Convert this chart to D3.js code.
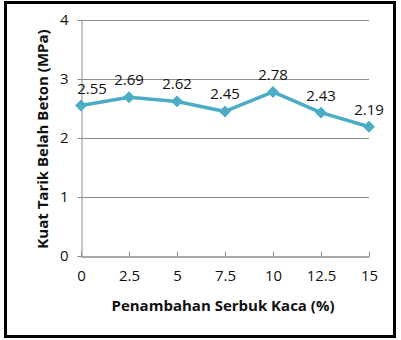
<!DOCTYPE html>
<meta charset="utf-8">
<script src="https://d3js.org/d3.v7.min.js"></script>
<style>
  body { margin: 0; background: #fff; }
  text { font-family: "Open Sans", "Noto Sans", sans-serif; }
</style>
<div id="my_dataviz"></div>
<script>

// data
var serbuk = [0, 2.5, 5, 7.5, 10, 12.5, 15]
var kuatTarik = [2.55, 2.69, 2.62, 2.45, 2.78, 2.43, 2.19]
var yTicks = [0, 1, 2, 3, 4]
var xTitle = "Penambahan Serbuk Kaca (%)"
var yTitle = "Kuat Tarik Belah Beton (MPa)"

var W = 401, H = 340
var margin = {top: 20, right: 32, bottom: 84, left: 81},
    width = 369 - margin.left,
    height = 256 - margin.top

var root = d3.select("#my_dataviz")
  .append("svg")
    .attr("width", W)
    .attr("height", H)

// outer frame
root.append("rect")
  .attr("x", 5.5).attr("y", 2.5)
  .attr("width", 389).attr("height", 334)
  .attr("fill", "#fff")
  .attr("stroke", "#000")
  .attr("stroke-width", 3)

var svg = root.append("g")
  .attr("transform", "translate(" + margin.left + "," + margin.top + ")")

var x = d3.scaleLinear().domain([0, 15]).range([0, width])
var y = d3.scaleLinear().domain([0, 4]).range([height, 0])

// gridlines
svg.append("g")
  .selectAll("line")
  .data(yTicks.filter(function(d) { return d > 0 }))
  .enter().append("line")
    .attr("x1", 0).attr("x2", width)
    .attr("y1", function(d) { return Math.round(y(d)) + 0.5 })
    .attr("y2", function(d) { return Math.round(y(d)) + 0.5 })
    .attr("stroke", "#8c8c8c")
    .attr("stroke-width", 1)

// Y axis
var yAxis = svg.append("g")
  .attr("transform", "translate(0.5,0)")
  .call(d3.axisLeft(y).tickValues(yTicks).tickSize(4).tickPadding(9).tickFormat(d3.format("d")))
yAxis.select(".domain").attr("stroke", "#8c8c8c")
yAxis.selectAll(".tick line").attr("stroke", "#8c8c8c")
yAxis.selectAll("text").attr("font-size", 15).attr("fill", "#111")
  .attr("font-family", "Open Sans")

// X axis
var xAxis = svg.append("g")
  .attr("transform", "translate(0," + (height + 0.5) + ")")
  .call(d3.axisBottom(x).tickValues(serbuk).tickSize(-5).tickPadding(14).tickSizeOuter(0)
    .tickFormat(function(d) { return String(d) }))
xAxis.select(".domain").attr("stroke", "#8c8c8c").attr("stroke-width", 1.5)
xAxis.selectAll(".tick line").attr("stroke", "#8c8c8c")
xAxis.selectAll("text").attr("font-size", 15).attr("fill", "#111")
  .attr("font-family", "Open Sans")

// the line
var line = d3.line()
  .x(function(d, i) { return x(serbuk[i]) })
  .y(function(d) { return y(d) })

svg.append("path")
  .datum(kuatTarik)
  .attr("d", line)
  .attr("fill", "none")
  .attr("stroke", "#4bacc6")
  .attr("stroke-width", 3.5)
  .attr("stroke-linejoin", "round")

// diamond markers
svg.append("g")
  .selectAll("path")
  .data(kuatTarik)
  .enter().append("path")
    .attr("d", d3.symbol().type(d3.symbolDiamond2).size(90))
    .attr("transform", function(d, i) { return "translate(" + x(serbuk[i]) + "," + y(d) + ")" })
    .attr("fill", "#4bacc6")

// data labels
svg.append("g")
  .selectAll("text")
  .data(kuatTarik)
  .enter().append("text")
    .attr("x", function(d, i) { return x(serbuk[i]) + (i === 0 ? 11 : 0) })
    .attr("y", function(d) { return y(d) - 12 })
    .attr("text-anchor", "middle")
    .attr("font-size", 15)
    .attr("fill", "#111")
    .text(function(d) { return d.toFixed(2) })

// axis titles
root.append("text")
  .attr("x", 223)
  .attr("y", 311)
  .attr("text-anchor", "middle")
  .attr("font-size", 15)
  .attr("font-weight", "bold")
  .attr("fill", "#111")
  .text(xTitle)

root.append("text")
  .attr("transform", "translate(48,139) rotate(-90)")
  .attr("text-anchor", "middle")
  .attr("font-size", 15)
  .attr("font-weight", "bold")
  .attr("fill", "#111")
  .text(yTitle)

</script>
